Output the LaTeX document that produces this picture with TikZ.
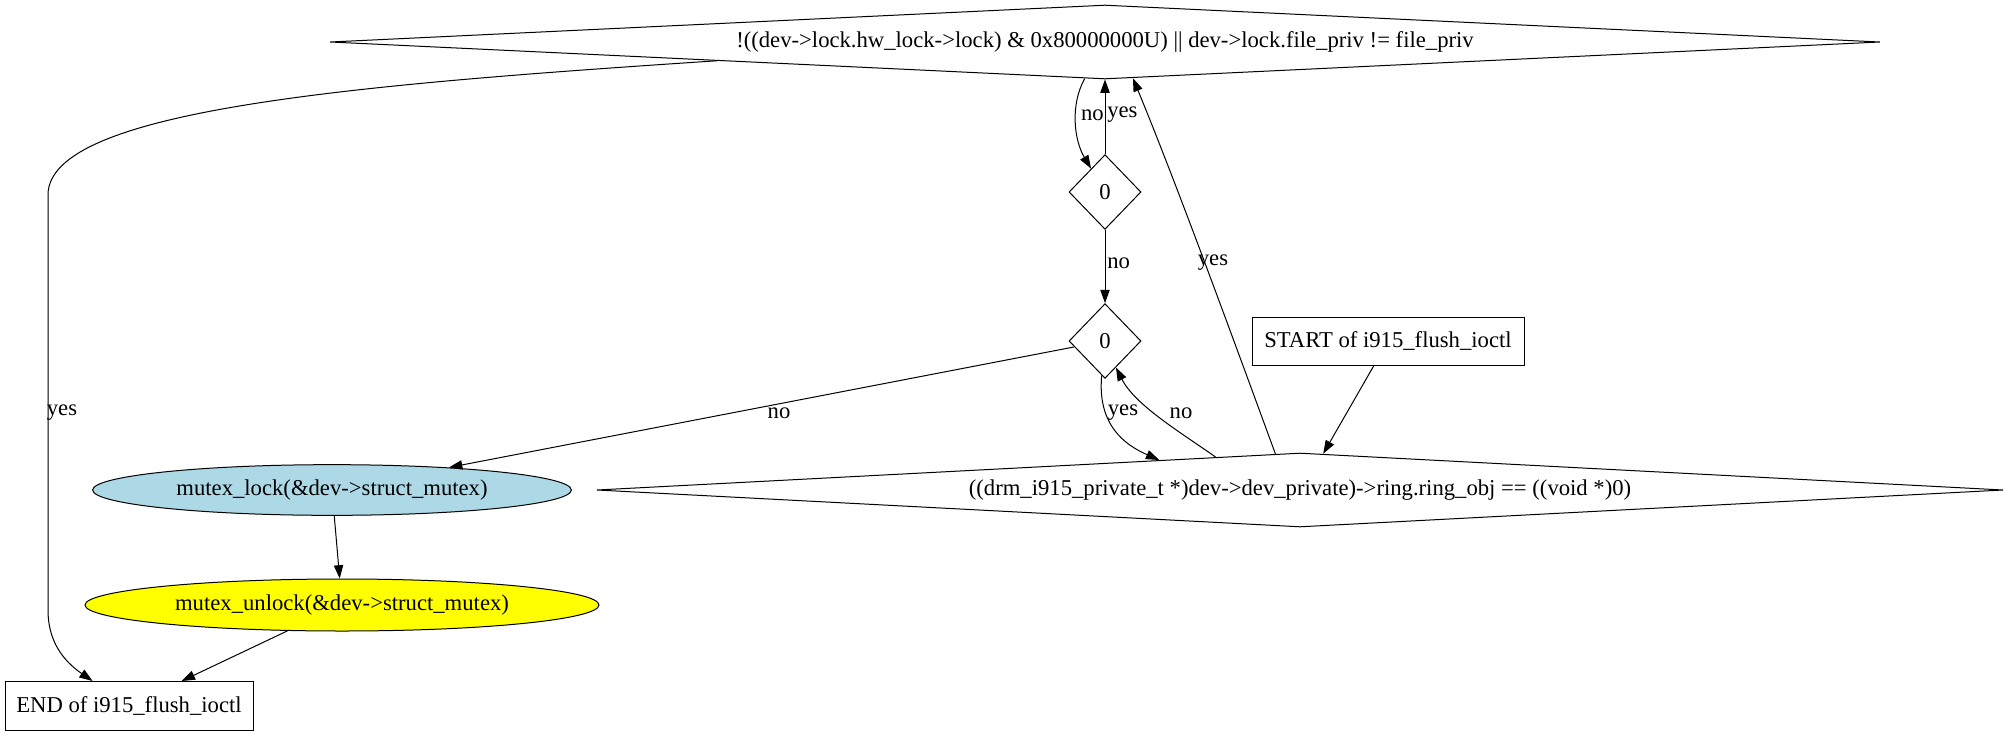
\documentclass[tikz,border=0pt]{standalone}
\usepackage{fontspec}
\setmainfont{Liberation Serif}
\usetikzlibrary{shapes.geometric,arrows.meta,calc}
\definecolor{lockblue}{HTML}{ADD8E6}
\definecolor{unlockyellow}{HTML}{FFFF00}
\tikzset{
  every node/.style={font=\fontsize{17}{20}\selectfont, inner sep=0pt},
  cond/.style={draw, diamond, line width=0.75pt},
  block/.style={draw, rectangle, line width=0.75pt},
  call/.style={draw, ellipse, line width=0.75pt},
  edge/.style={-{Triangle[length=10pt,width=7pt]}, line width=0.75pt}
}
\begin{document}
\begin{tikzpicture}[x=0.75pt,y=-0.75pt]
\useasboundingbox (0,0) rectangle (2011,736);
\node[cond, aspect=20, minimum width=1162.5pt, minimum height=55.5pt] at (1105, 42) (cond1) {!((dev->lock.hw\_lock->lock) \& 0x80000000U) || dev->lock.file\_priv != file\_priv};
\node[cond, minimum width=54pt, minimum height=56pt] at (1105, 192) (zero1) {0};
\node[cond, minimum width=54pt, minimum height=56pt] at (1105, 341) (zero2) {0};
\node[block, minimum width=204pt, minimum height=36pt] at (1388, 341) (start) {START of i915\_flush\_ioctl};
\node[cond, aspect=20, minimum width=1055pt, minimum height=55.5pt] at (1300, 490) (cond2) {((drm\_i915\_private\_t *)dev->dev\_private)->ring.ring\_obj == ((void *)0)};
\node[call, fill=lockblue, minimum width=359pt, minimum height=38pt] at (332, 490) (lock) {mutex\_lock(\&dev->struct\_mutex)};
\node[call, fill=unlockyellow, minimum width=385.5pt, minimum height=39pt] at (342, 605) (unlock) {mutex\_unlock(\&dev->struct\_mutex)};
\node[block, minimum width=186pt, minimum height=36.75pt] at (129, 706) (finish) {END of i915\_flush\_ioctl};
\draw[edge] (cond1.south west) .. controls (350,85) and (48,110) .. (48,195) -- (48,610) .. controls (48,640) and (62,660) .. (finish);
\node at (62, 413) (lyes1) {yes};
\draw[edge] (cond1) .. controls (1070,105) and (1074,140) .. (zero1);
\node[anchor=east] at (1104, 115) (lno1) {no};
\draw[edge] (zero1) -- (cond1);
\node[anchor=west] at (1107, 115) (lyes2) {yes};
\draw[edge] (zero1) -- (zero2);
\node[anchor=west] at (1107, 263) (lno2) {no};
\draw[edge] (zero2) -- (lock);
\node at (779, 413) (lno3) {no};
\draw[edge] (zero2) .. controls (1097,425) and (1125,445) .. ($(cond2.north)!0.2!(cond2.west)$);
\node at (1123, 413) (lyes3) {yes};
\draw[edge] ($(cond2.north)!0.12!(cond2.west)$) .. controls (1180,432) and (1135,405) .. ($(zero2.south)!0.3!(zero2.east)$);
\node at (1181, 413) (lno4) {no};
\draw[edge] ($(cond2.north)!0.035!(cond2.west)$) .. controls (1230,330) and (1175,180) .. ($(cond1.south)!0.036!(cond1.east)$);
\node at (1213, 263) (lyes4) {yes};
\draw[edge] (start) -- ($(cond2.north)!0.033!(cond2.east)$);
\draw[edge] (lock) -- (unlock);
\draw[edge] (unlock) -- (finish);
\end{tikzpicture}
\end{document}
